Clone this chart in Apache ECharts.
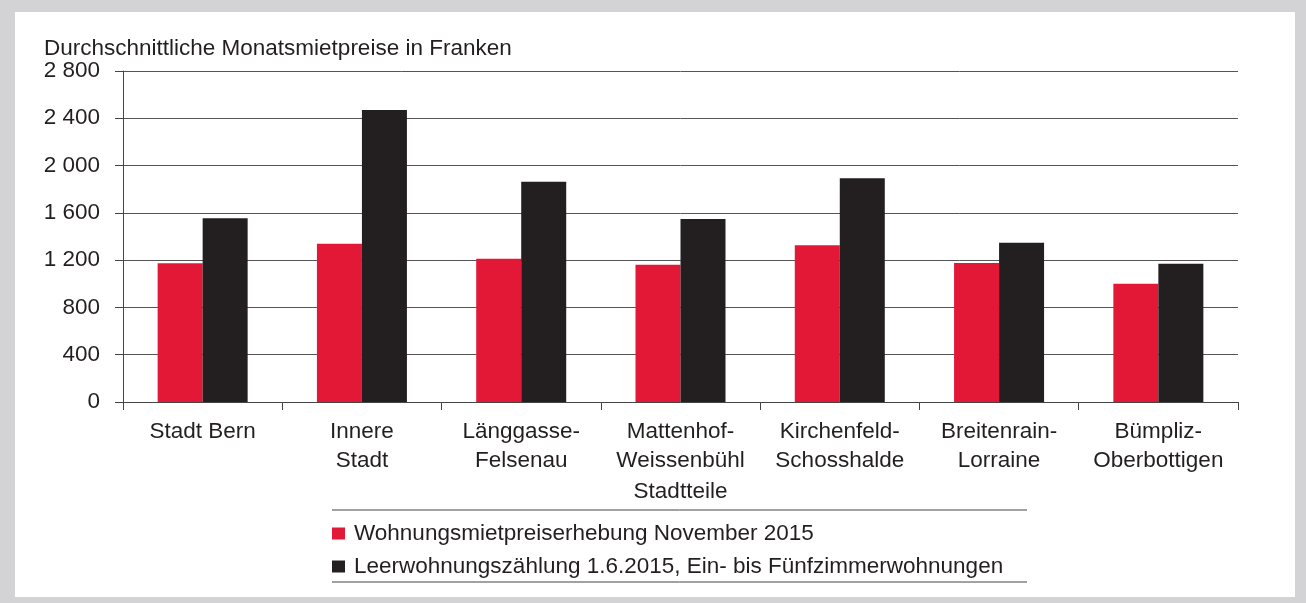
<!DOCTYPE html>
<html>
<head>
<meta charset="utf-8">
<script src="https://cdn.jsdelivr.net/npm/echarts@6/dist/echarts.min.js"></script>
<style>
  html, body { margin: 0; padding: 0; }
  body { width: 1306px; height: 603px; background: #d3d3d5; position: relative; overflow: hidden; }
  #chart { position: absolute; left: 15px; top: 12px; width: 1280px; height: 585px; background: #fff; }
</style>
</head>
<body>
<div id="chart"></div>
<script>
// Stadtteile
const categories = [
  'Stadt Bern',
  'Innere\nStadt',
  'Länggasse-\nFelsenau',
  'Mattenhof-\nWeissenbühl',
  'Kirchenfeld-\nSchosshalde',
  'Breitenrain-\nLorraine',
  'Bümpliz-\nOberbottigen'
]
// Wohnungsmietpreiserhebung November 2015
const mietpreise2015 = [1173, 1339, 1212, 1162, 1326, 1176, 1001]
// Leerwohnungszählung 1.6.2015
const leerwohnungen2015 = [1554, 2470, 1864, 1548, 1892, 1348, 1170]
const seriesNames = [
  'Wohnungsmietpreiserhebung November 2015',
  'Leerwohnungszählung 1.6.2015, Ein- bis Fünfzimmerwohnungen'
]

const FONT = "'Liberation Sans', Arial, sans-serif"
const FS = 22.5
const chart = echarts.init(document.getElementById('chart'))

// Tausendertrennzeichen mit Leerzeichen
const fmt = v => v >= 1000 ? Math.floor(v / 1000) + ' ' + String(v % 1000).padStart(3, '0') : String(v)

chart.setOption({
  animation: false,
  textStyle: { fontFamily: FONT },
  title: {
    text: 'Durchschnittliche Monatsmietpreise in Franken',
    left: 24,
    top: 20,
    textStyle: { fontFamily: FONT, fontSize: FS, fontWeight: 'normal', color: '#231f20' }
  },
  legend: {
    orient: 'vertical',
    left: 312,
    top: 505,
    itemWidth: 13,
    itemHeight: 12,
    itemGap: 10,
    icon: 'rect',
    data: seriesNames,
    textStyle: { fontFamily: FONT, fontSize: FS, color: '#231f20', padding: [0, 0, 0, 4] }
  },
  grid: { left: 108, right: 57, top: 59, bottom: 195 },
  xAxis: {
    type: 'category',
    data: categories,
    name: 'Stadtteile',
    nameLocation: 'middle',
    nameGap: 76,
    nameTextStyle: { fontFamily: FONT, fontSize: FS, color: '#231f20' },
    axisLine: { lineStyle: { color: '#444', width: 1 } },
    axisTick: { show: true, length: 8, lineStyle: { color: '#444' } },
    axisLabel: { fontFamily: FONT, fontSize: FS, color: '#231f20', margin: 15, lineHeight: 29, interval: 0 }
  },
  yAxis: {
    type: 'value',
    min: 0,
    max: 2800,
    interval: 400,
    axisLine: { show: true, lineStyle: { color: '#444', width: 1 } },
    axisTick: { show: true, length: 8, lineStyle: { color: '#444' } },
    splitLine: { lineStyle: { color: '#555', width: 1 } },
    axisLabel: { fontFamily: FONT, fontSize: FS, color: '#231f20', margin: 23, formatter: fmt }
  },
  series: [
    {
      name: seriesNames[0],
      type: 'bar',
      data: mietpreise2015,
      barWidth: 45,
      barGap: '0%',
      itemStyle: { color: '#e31837' }
    },
    {
      name: seriesNames[1],
      type: 'bar',
      data: leerwohnungen2015,
      barWidth: 45,
      barGap: '0%',
      itemStyle: { color: '#231f20' }
    }
  ],
  // Trennlinien ober- und unterhalb der Legende
  graphic: [
    { type: 'line', shape: { x1: 317, y1: 498, x2: 1012, y2: 498 }, style: { stroke: '#444', lineWidth: 1 } },
    { type: 'line', shape: { x1: 317, y1: 570, x2: 1012, y2: 570 }, style: { stroke: '#444', lineWidth: 1 } }
  ]
})
</script>
</body>
</html>
